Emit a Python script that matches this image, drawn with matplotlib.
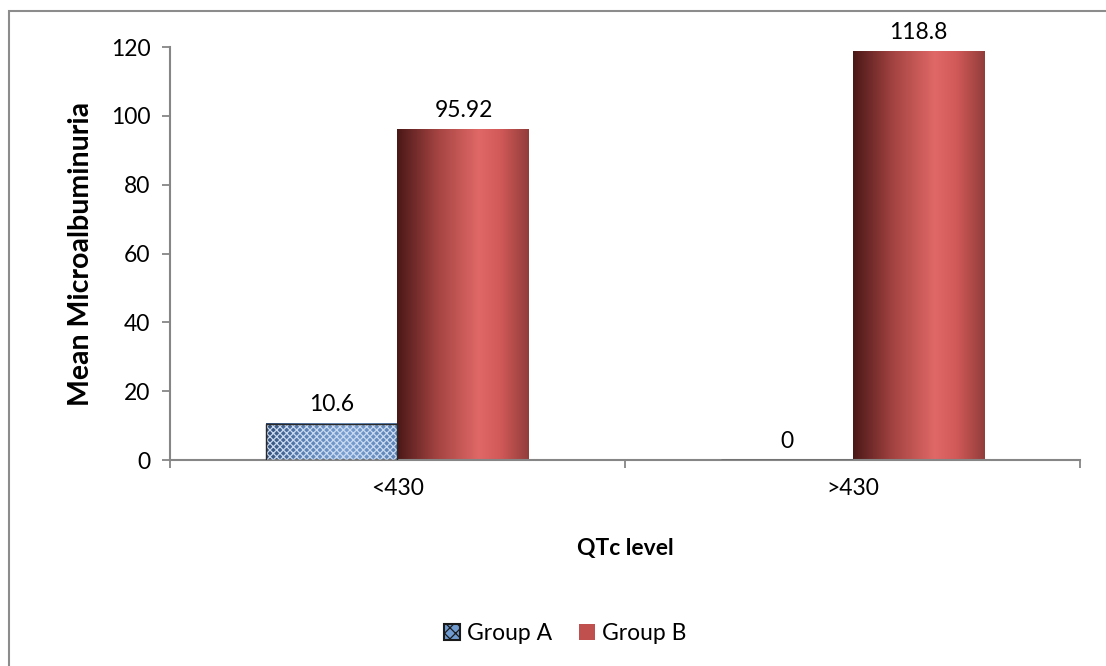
import numpy as np
import matplotlib
matplotlib.use('Agg')
import matplotlib.pyplot as plt
from matplotlib.colors import LinearSegmentedColormap
from matplotlib.patches import Rectangle, Patch

plt.rcParams['font.family'] = ['Lato', 'DejaVu Sans']

categories = ['<430', '>430']
group_a = [10.6, 0]
group_b = [95.92, 118.8]
labels_a = ['10.6', '0']
labels_b = ['95.92', '118.8']

fs = 16.5

fig = plt.figure(figsize=(11.06, 6.66), dpi=100)
ax = fig.add_axes([0.1537, 0.3093, 0.8228, 0.6201])

x = np.arange(len(categories))
w = 0.29

grad = np.linspace(0, 1, 256).reshape(1, -1)

# group A: blue shaded bar with light cross-hatch
blue_cmap = LinearSegmentedColormap.from_list('bluecyl', [
    (0.0, '#34507a'), (0.25, '#587db0'), (0.6, '#7aa0d2'), (1.0, '#5c82b5')])
plt.rcParams['hatch.linewidth'] = 0.9
bars_a = ax.bar(x - w/2, group_a, w, color='none', linewidth=0, zorder=2)
for b in bars_a:
    if b.get_height() <= 0:
        continue
    x0, y0 = b.get_x(), b.get_y()
    ax.imshow(grad, cmap=blue_cmap, aspect='auto', zorder=2,
              extent=(x0, x0 + b.get_width(), y0, y0 + b.get_height()))
ax.bar(x - w/2, group_a, w, color='none', edgecolor='#c9daf0',
       hatch='xxxxx', linewidth=0, zorder=3)
ax.bar(x - w/2, group_a, w, fill=False, edgecolor='#2a2a2a', linewidth=1.0, zorder=4)

# group B: red cylinder-like shading
red_cmap = LinearSegmentedColormap.from_list('redcyl', [
    (0.0, '#4a1817'), (0.3, '#a24341'), (0.62, '#e06866'),
    (0.78, '#d25a58'), (1.0, '#923d3b')])
bars_b = ax.bar(x + w/2, group_b, w, color='none', linewidth=0, zorder=2)
for b in bars_b:
    x0, y0 = b.get_x(), b.get_y()
    ax.imshow(grad, cmap=red_cmap, aspect='auto', zorder=2,
              extent=(x0, x0 + b.get_width(), y0, y0 + b.get_height()))

ax.set_xlim(-0.5, 1.5)
ax.set_ylim(0, 120)

for b, t in zip(bars_a, labels_a):
    ax.text(b.get_x() + b.get_width()/2, b.get_height() + 5.5, t,
            ha='center', va='center', fontsize=fs)
for b, t in zip(bars_b, labels_b):
    ax.text(b.get_x() + b.get_width()/2, b.get_height() + 5.5, t,
            ha='center', va='center', fontsize=fs)

ax.set_yticks(np.arange(0, 121, 20))
ax.set_xticks(x)
ax.set_xticklabels(categories)
ax.set_xticks([-0.5, 0.5, 1.5], minor=True)
ax.tick_params(axis='x', which='major', length=0, pad=13, labelsize=fs)
ax.tick_params(axis='x', which='minor', length=6, width=1.3, color='#868686', direction='out')
ax.tick_params(axis='y', length=6, width=1.3, color='#868686', labelsize=fs, pad=8)

for s in ['top', 'right']:
    ax.spines[s].set_visible(False)
for s in ['left', 'bottom']:
    ax.spines[s].set_color('#868686')
    ax.spines[s].set_linewidth(1.5)

ax.set_xlabel('QTc level', fontsize=fs, fontweight='bold', labelpad=28)
ax.set_ylabel('Mean Microalbuminuria', fontsize=20.5, fontweight='bold', labelpad=12)

handles = [Patch(facecolor='#6f9bd1', edgecolor='#1a1a1a', hatch='xxx', linewidth=1.5),
           Patch(facecolor='#c0504d', edgecolor='none')]
fig.legend(handles, ['Group A', 'Group B'], loc='center', bbox_to_anchor=(0.511, 0.049),
           ncol=2, frameon=False, fontsize=fs, handlelength=0.7, handleheight=0.7,
           handletextpad=0.3, columnspacing=1.2)

fig.patches.append(Rectangle((9/1106, -0.1), 1.2, 1 - 11/666 + 0.1,
                             transform=fig.transFigure, fill=False,
                             edgecolor='#8c8c8c', linewidth=1.5, clip_on=False))

fig.savefig('out.png', dpi=100)
